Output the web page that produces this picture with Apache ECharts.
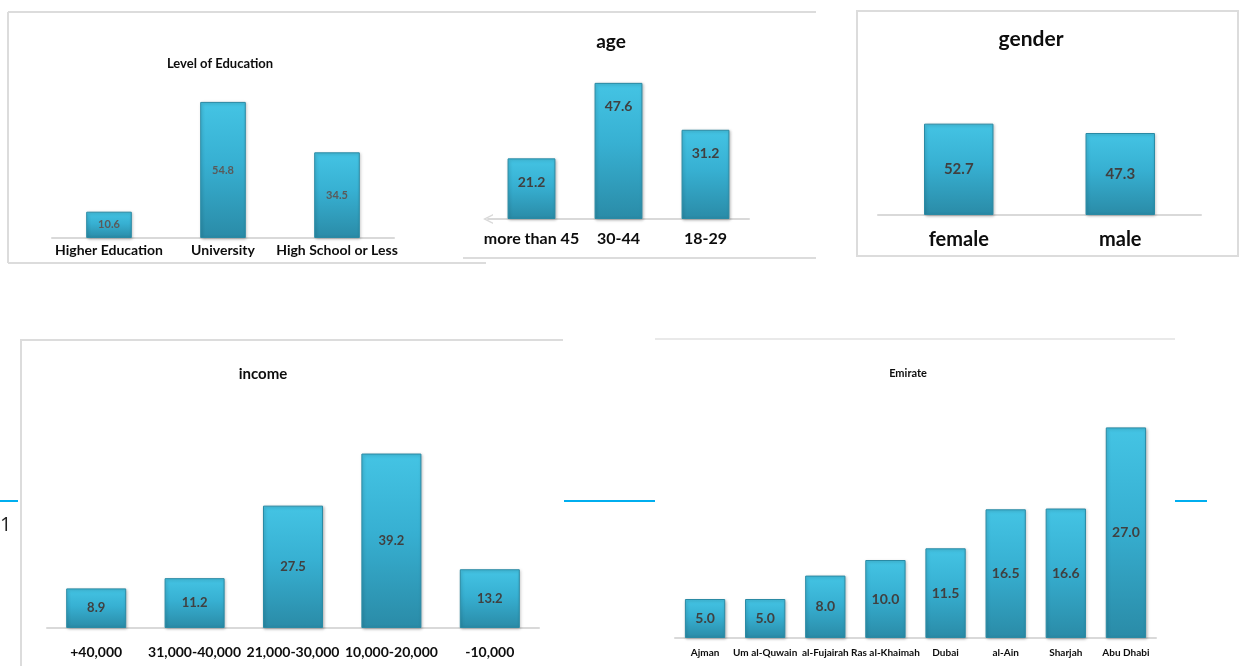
<!DOCTYPE html>
<html>
  <head>
    <meta charset="utf-8">
    <title>Survey sample</title>
    <style>
      html, body { margin: 0; padding: 0; background: #fff; }
      #main { width: 1241px; height: 666px; }
    </style>
    <script src="https://cdn.jsdelivr.net/npm/echarts@6/dist/echarts.min.js"></script>
  </head>
  <body>
    <div id="main"></div>
    <script type="text/javascript">

      // data
      var eduCats = ['Higher Education', 'University', 'High School or Less']
      var eduVals = [10.6, 54.8, 34.5]

      var ageCats = ['more than 45', '30-44', '18-29']
      var ageVals = [21.2, 47.6, 31.2]

      var genderCats = ['female', 'male']
      var genderVals = [52.7, 47.3]

      var incomeCats = ['+40,000', '31,000-40,000', '21,000-30,000', '10,000-20,000', '-10,000']
      var incomeVals = [8.9, 11.2, 27.5, 39.2, 13.2]

      var emirateCats = ['Ajman', 'Um al-Quwain', 'al-Fujairah', 'Ras al-Khaimah', 'Dubai', 'al-Ain', 'Sharjah', 'Abu Dhabi']
      var emirateVals = [5.0, 5.0, 8.0, 10.0, 11.5, 16.5, 16.6, 27.0]

      var FONT = 'Lato, "Open Sans", sans-serif'

      var barColor = new echarts.graphic.LinearGradient(0, 0, 0, 1, [
        { offset: 0, color: '#44c4e4' },
        { offset: 0.45, color: '#37b0d2' },
        { offset: 1, color: '#2a8ba7' }
      ])

      // one panel = title + grid + axes + bar series
      var panels = [
        { cats: eduCats, vals: eduVals, title: 'Level of Education', tx: 215, ty: 52, tsize: 13,
          grid: { left: 52, top: 89, width: 342, height: 149 }, max: 60, barW: '40%',
          lsize: 14, lmargin: 5, vsize: 11, vcolor: '#5a5a5a', vpos: 'inside' },
        { cats: ageCats, vals: ageVals, title: 'age', tx: 606, ty: 27, tsize: 19,
          grid: { left: 488, top: 76, width: 261, height: 143 }, max: 50, barW: '55%',
          lsize: 16, lmargin: 12, vsize: 14, vcolor: '#404040', vpos: 'insideTop', vdist: 17, arrow: true },
        { cats: genderCats, vals: genderVals, title: 'gender', tx: 1026, ty: 24, tsize: 21,
          grid: { left: 878, top: 111, width: 323, height: 104 }, max: 60, barW: '43%',
          lsize: 20, lmargin: 15, vsize: 15, vcolor: '#404040', vpos: 'inside' },
        { cats: incomeCats, vals: incomeVals, title: 'income', tx: 258, ty: 362, tsize: 15,
          grid: { left: 47, top: 450, width: 492, height: 178 }, max: 40, barW: '61%',
          lsize: 14, lmargin: 17, vsize: 13, vcolor: '#404040', vpos: 'inside' },
        { cats: emirateCats, vals: emirateVals, title: 'Emirate', tx: 903, ty: 363, tsize: 11,
          grid: { left: 675, top: 404, width: 481, height: 234 }, max: 30, barW: '67%',
          lsize: 10, lmargin: 10, vsize: 14, vcolor: '#404040', vpos: 'inside' }
      ]

      var titles = [], grids = [], xAxes = [], yAxes = [], series = []
      panels.forEach(function (p, i) {
        titles.push({
          text: p.title, left: p.tx, top: p.ty, textAlign: 'center',
          textStyle: { fontFamily: FONT, fontWeight: 'bold', fontSize: p.tsize, color: '#0d0d0d' }
        })
        grids.push(p.grid)
        xAxes.push({
          type: 'category', gridIndex: i, data: p.cats,
          axisTick: { show: false },
          axisLine: {
            lineStyle: { color: '#d9d9d9', width: 2 },
            symbol: p.arrow ? ['path://M0,10 L5,0 L10,10 L8.6,10 L5,3 L1.4,10 Z', 'none'] : ['none', 'none'],
            symbolSize: [14, 10]
          },
          axisLabel: {
            interval: 0, margin: p.lmargin, fontFamily: FONT, fontWeight: 'bold',
            fontSize: p.lsize, color: '#0d0d0d'
          }
        })
        yAxes.push({ type: 'value', gridIndex: i, min: 0, max: p.max, show: false, splitLine: { show: false } })
        series.push({
          type: 'bar', xAxisIndex: i, yAxisIndex: i, data: p.vals, barWidth: p.barW,
          itemStyle: {
            color: barColor, borderColor: '#2a8aa4', borderWidth: 1,
            shadowColor: 'rgba(0,0,0,0.25)', shadowBlur: 3, shadowOffsetX: 1, shadowOffsetY: 1
          },
          label: {
            show: true, position: p.vpos, distance: p.vdist || 5,
            fontFamily: FONT, fontWeight: 'bold', fontSize: p.vsize, color: p.vcolor,
            formatter: function (d) { return d.value.toFixed(1) }
          }
        })
      })

      // panel frames and stray marks from the screenshot collage
      var frame = { stroke: '#dcdcdc', lineWidth: 2 }
      var blue = { stroke: '#00aeef', lineWidth: 2 }
      function seg(x1, y1, x2, y2, st) {
        return { type: 'line', shape: { x1: x1, y1: y1, x2: x2, y2: y2 }, style: st, silent: true }
      }
      var graphics = [
        seg(8, 12, 816, 12, frame),
        seg(8, 12, 8, 263, frame),
        seg(8, 263, 486, 263, frame),
        seg(463, 258, 816, 258, frame),
        { type: 'rect', shape: { x: 857, y: 11, width: 381, height: 245 }, style: { fill: 'none', stroke: '#dcdcdc', lineWidth: 2 }, silent: true },
        seg(20, 340, 563, 340, frame),
        seg(21, 340, 21, 666, frame),
        seg(655, 339, 1175, 339, { stroke: '#e2e2e2', lineWidth: 1.5 }),
        seg(0, 501, 18, 501, blue),
        seg(564, 501, 655, 501, blue),
        seg(1175, 501, 1207, 501, blue),
        { type: 'text', left: 0, top: 515, style: { text: '1', fontFamily: '"Open Sans", sans-serif', fontSize: 20, fill: '#222' } }
      ]

      var myChart = echarts.init(document.getElementById('main'))
      myChart.setOption({
        animation: false,
        title: titles,
        grid: grids,
        xAxis: xAxes,
        yAxis: yAxes,
        series: series,
        graphic: graphics
      })
    </script>
  </body>
</html>
